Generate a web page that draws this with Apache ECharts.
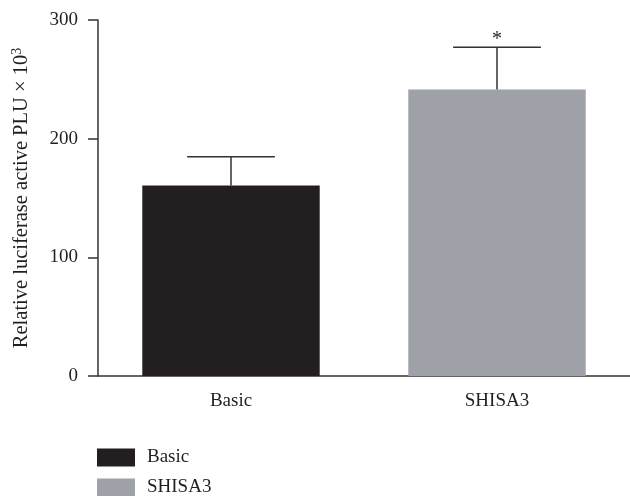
<!DOCTYPE html>
<html>
<head>
<meta charset="utf-8">
<script src="https://cdn.jsdelivr.net/npm/echarts@6/dist/echarts.min.js"></script>
<style>
  html, body { margin: 0; padding: 0; background: #fff; }
  #chart { width: 630px; height: 496px; }
</style>
</head>
<body>
<div id="chart"></div>
<script>
// Luciferase reporter activity: mean and upper error per construct
const categories = ['Basic', 'SHISA3'];
const means = [160.5, 241.5];
const errorTops = [184.7, 277.1];
const significance = ['', '*'];
const barColors = ['#231f20', '#9fa1a8'];
const yTicks = [0, 100, 200, 300];

const FONT = 'Liberation Serif';
const INK = '#231f20';
const FS = 19;

const chart = echarts.init(document.getElementById('chart'));

// One bar series per construct so each has its own legend entry
const barSeries = categories.map((name, i) => ({
  name: name,
  type: 'bar',
  stack: 'all',
  barWidth: '66.7%',
  itemStyle: { color: barColors[i] },
  data: categories.map((c, j) => (j === i ? means[i] : null)),
  z: 2
}));

// Upper error whisker with cap, plus significance mark
const errorSeries = {
  type: 'custom',
  name: 'error',
  z: 5,
  data: categories.map((c, i) => [i, means[i], errorTops[i]]),
  renderItem: function (params, api) {
    const base = api.coord([api.value(0), api.value(1)]);
    const top = api.coord([api.value(0), api.value(2)]);
    const capHalf = api.size([1, 0])[0] * 0.165;
    const children = [
      { type: 'line', shape: { x1: base[0], y1: base[1], x2: top[0], y2: top[1] },
        style: { stroke: '#333', lineWidth: 1.5 } },
      { type: 'line', shape: { x1: top[0] - capHalf, y1: top[1], x2: top[0] + capHalf, y2: top[1] },
        style: { stroke: '#333', lineWidth: 1.5 } }
    ];
    const mark = significance[params.dataIndex];
    if (mark) {
      children.push({
        type: 'text',
        x: top[0], y: top[1] + 3,
        style: { text: mark, fill: INK, font: '20px "' + FONT + '"', align: 'center', verticalAlign: 'bottom' }
      });
    }
    return { type: 'group', children: children };
  }
};

// Legend entries stacked vertically, one component per construct
const legendRows = [448, 478];
const legends = categories.map((name, i) => ({
  data: [name],
  left: 97,
  top: legendRows[i],
  padding: 0,
  itemWidth: 38,
  itemHeight: 18,
  icon: 'rect',
  textStyle: { fontFamily: FONT, fontSize: FS, color: INK, padding: [0, 0, 0, 7] }
}));

chart.setOption({
  animation: false,
  backgroundColor: '#fff',
  textStyle: { fontFamily: FONT, color: INK },
  grid: { left: 98, top: 20, bottom: 120, width: 534 },
  legend: legends,
  xAxis: {
    type: 'category',
    data: categories,
    axisLine: { lineStyle: { color: '#333', width: 1.5 } },
    axisTick: { alignWithLabel: true, length: 9, lineStyle: { color: '#333', width: 1.5 } },
    axisLabel: { fontFamily: FONT, fontSize: FS, color: INK, margin: 16 }
  },
  yAxis: {
    type: 'value',
    min: yTicks[0],
    max: yTicks[yTicks.length - 1],
    interval: 100,
    splitLine: { show: false },
    axisLine: { show: true, lineStyle: { color: '#333', width: 1.5 } },
    axisTick: { show: true, length: 10, lineStyle: { color: '#333', width: 1.5 } },
    axisLabel: { fontFamily: FONT, fontSize: FS, color: INK, margin: 20 },
    name: '{n|Relative luciferase active PLU × 10}{s|3}',
    nameLocation: 'middle',
    nameGap: 65,
    nameRotate: 90,
    nameTextStyle: {
      rich: {
        n: { fontFamily: FONT, fontSize: 20.5, color: INK },
        s: { fontFamily: FONT, fontSize: 14, color: INK, verticalAlign: 'top', padding: [0, 0, 9, 0] }
      }
    }
  },
  series: barSeries.concat([errorSeries])
});
</script>
</body>
</html>
